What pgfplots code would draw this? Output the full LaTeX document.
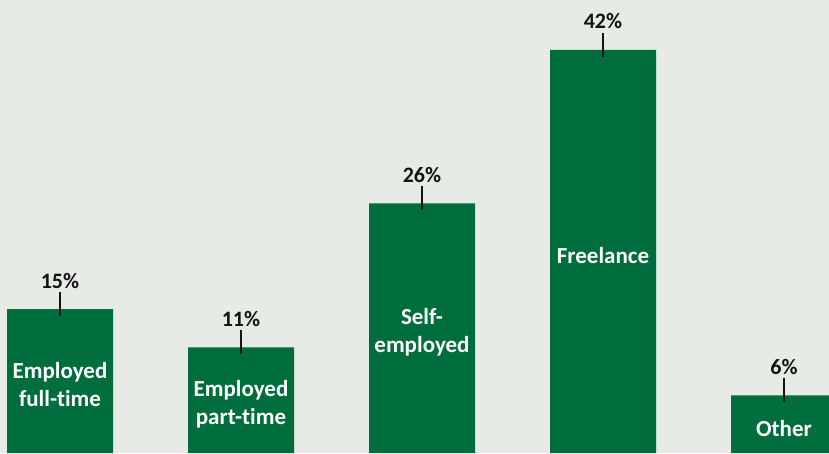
\documentclass[border=0pt]{standalone}
\usepackage{pgfplots}
\usepackage{pgfplotstable}
\usepackage{fontspec}
\setmainfont[Ligatures=NoCommon]{Carlito}
\pgfplotsset{compat=1.18}

\definecolor{bargreen}{RGB}{0,110,60}
\definecolor{bgcol}{RGB}{230,235,229}
\definecolor{ink}{RGB}{20,20,20}

\pgfplotstableread[col sep=comma]{
x,v,label
0,15,{Employed\\full-time}
1,11,{Employed\\part-time}
2,26,{Self-\\employed}
3,42,{Freelance}
4,6,{Other}
}\shares

\begin{document}
\begin{tikzpicture}
\begin{axis}[
  scale only axis,
  width=829pt, height=453pt,
  xmin=-0.3315, xmax=4.2486,
  ymin=0, ymax=47.19,
  xtick=\empty, ytick=\empty,
  axis line style={draw=none},
  axis background/.style={fill=bgcol},
  /pgf/number format/assume math mode=true,
  clip=true,
]
% bars with the percentage above
\addplot[ybar, bar width=106pt, fill=bargreen, draw=none,
  nodes near coords={\pgfmathprintnumber{\pgfplotspointmeta}\%},
  every node near coord/.append style={anchor=base, yshift=21pt, inner sep=0pt,
    text=ink, font=\bfseries\fontsize{22}{26}\selectfont},
] table[x=x, y=v] {\shares};
% small leader ticks
\addplot[only marks, mark=|, mark size=12pt, draw=ink, line width=1.3pt,
  mark options={yshift=5pt}] table[x=x, y=v] {\shares};
% category names inside the bars
\addplot[only marks, mark=none, point meta=explicit symbolic,
  nodes near coords,
  every node near coord/.append style={anchor=center, align=center, text=white,
    inner sep=0pt, yshift=-4pt, font=\bfseries\fontsize{23}{28}\selectfont},
] table[x=x, y expr=\thisrow{v}/2, meta=label] {\shares};
\end{axis}
\end{tikzpicture}
\end{document}
